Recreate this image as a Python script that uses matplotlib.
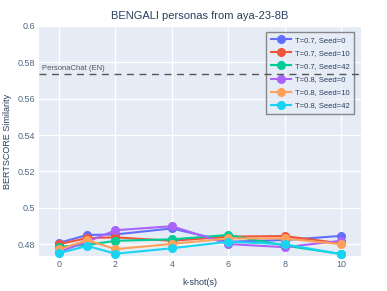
import matplotlib
matplotlib.use("Agg")
from matplotlib import pyplot as plt

plt.rcParams['font.family'] = ['Liberation Sans', 'DejaVu Sans']

# data
shots = [0, 1, 2, 4, 6, 8, 10]
labels = ['T=0.7, Seed=0', 'T=0.7, Seed=10', 'T=0.7, Seed=42',
          'T=0.8, Seed=0', 'T=0.8, Seed=10', 'T=0.8, Seed=42']
t07_s0 = [0.4808, 0.4851, 0.4854, 0.4887, 0.4814, 0.4823, 0.4846]
t07_s10 = [0.4801, 0.4834, 0.4838, 0.4819, 0.4842, 0.4845, 0.4805]
t07_s42 = [0.4787, 0.4796, 0.4819, 0.4827, 0.4851, 0.4793, 0.4746]
t08_s0 = [0.4758, 0.4814, 0.4877, 0.4899, 0.4801, 0.4784, 0.4819]
t08_s10 = [0.4772, 0.4823, 0.4773, 0.4802, 0.4832, 0.4832, 0.4800]
t08_s42 = [0.4751, 0.4791, 0.4748, 0.4778, 0.4814, 0.4800, 0.4746]
series = [t07_s0, t07_s10, t07_s42, t08_s0, t08_s10, t08_s42]
colors = ['#636efa', '#EF553B', '#00cc96', '#ab63fa', '#FFA15A', '#19d3f3']

baseline = 0.5735
baseline_label = 'PersonaChat (EN)'
yticks = [0.48, 0.5, 0.52, 0.54, 0.56, 0.58, 0.6]
ytick_labels = ['0.48', '0.5', '0.52', '0.54', '0.56', '0.58', '0.6']
xticks = [0, 2, 4, 6, 8, 10]

txt = '#2a3f5f'
bg = '#E5ECF6'

fig = plt.figure(figsize=(3.87, 2.91), dpi=100)
ax = fig.add_axes([0.101, 0.120, 0.832, 0.791])
ax.set_facecolor(bg)

for vals, lab, c in zip(series, labels, colors):
    ax.plot(shots, vals, color=c, lw=1.5, marker='o', ms=5.5,
            label=lab, zorder=3, clip_on=False)

ax.axhline(baseline, color='#555555', lw=1, ls=(0, (5, 4)), zorder=6)
ax.text(-0.6, baseline + 0.0012, baseline_label, color='#555555',
        fontsize=5.5, ha='left', va='bottom')

ax.set_xlim(-0.71, 10.71)
ax.set_ylim(0.4735, 0.6)
ax.set_xticks(xticks)
ax.set_yticks(yticks)
ax.set_yticklabels(ytick_labels)
ax.grid(True, color='white', lw=1)
ax.set_axisbelow(True)
for s in ax.spines.values():
    s.set_visible(False)
ax.tick_params(length=0, labelsize=6.5, colors='#506784', pad=3)

ax.set_xlabel('k-shot(s)', fontsize=6.5, color=txt, labelpad=6)
ax.set_ylabel('BERTSCORE Similarity', fontsize=6.5, color=txt, labelpad=4)
ax.set_title('BENGALI personas from aya-23-8B', fontsize=8, color=txt, pad=5)

leg = ax.legend(loc='upper right', bbox_to_anchor=(0.99, 0.99),
                fontsize=5.5, frameon=True, handlelength=2.6,
                labelspacing=0.75, borderpad=0.6, handletextpad=0.5,
                fancybox=False)
leg.get_frame().set_facecolor(bg)
leg.get_frame().set_edgecolor('#444444')
leg.get_frame().set_linewidth(1)
leg.get_frame().set_alpha(0.6)
for t in leg.get_texts():
    t.set_color(txt)

fig.savefig('out.png', dpi=100)
